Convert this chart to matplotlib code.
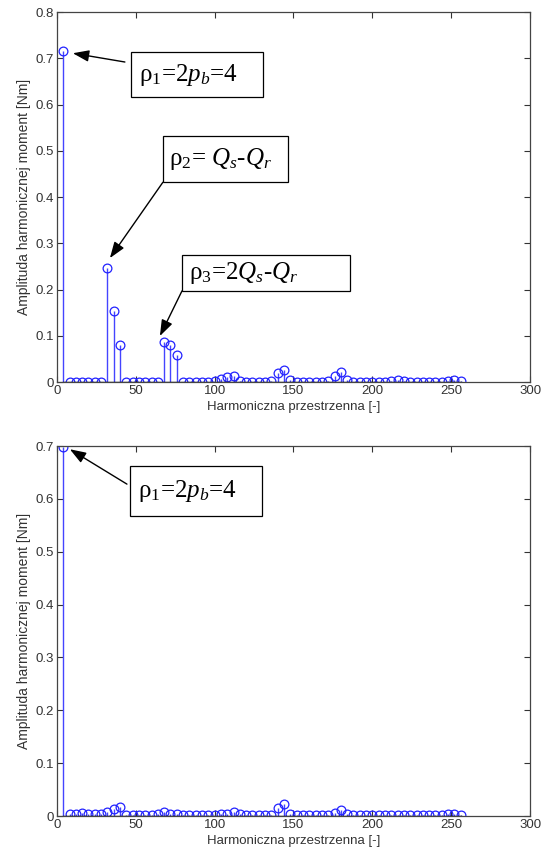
import numpy as np
import matplotlib
matplotlib.use('Agg')
import matplotlib.pyplot as plt
from matplotlib.patches import Rectangle

plt.rcParams['font.family'] = ['Liberation Sans', 'DejaVu Sans']
plt.rcParams['mathtext.fontset'] = 'custom'
plt.rcParams['mathtext.rm'] = 'Liberation Serif'
plt.rcParams['mathtext.it'] = 'Liberation Serif:italic'

# ================= data ===================
harmonic = np.arange(4, 257, 4)   # harmonic orders 4, 8, ..., 256

amp_top = [0.715, 0.001, 0.001, 0.001, 0.001, 0.001, 0.001, 0.246,
           0.153, 0.081, 0.001, 0.001, 0.001, 0.001, 0.001, 0.001,
           0.087, 0.079, 0.058, 0.001, 0.001, 0.001, 0.001, 0.001,
           0.002, 0.006, 0.011, 0.014, 0.002, 0.001, 0.001, 0.001,
           0.001, 0.002, 0.019, 0.027, 0.004, 0.001, 0.001, 0.001,
           0.001, 0.001, 0.002, 0.013, 0.022, 0.004, 0.001, 0.001,
           0.001, 0.001, 0.001, 0.001, 0.002, 0.005, 0.002, 0.001,
           0.001, 0.001, 0.001, 0.001, 0.001, 0.003, 0.005, 0.002]

amp_bottom = [0.698, 0.003, 0.004, 0.005, 0.004, 0.004, 0.003, 0.008,
              0.014, 0.018, 0.002, 0.002, 0.002, 0.002, 0.002, 0.003,
              0.008, 0.003, 0.003, 0.002, 0.002, 0.002, 0.002, 0.002,
              0.002, 0.003, 0.004, 0.007, 0.003, 0.002, 0.002, 0.002,
              0.002, 0.002, 0.015, 0.022, 0.004, 0.002, 0.002, 0.002,
              0.002, 0.002, 0.002, 0.006, 0.011, 0.003, 0.002, 0.002,
              0.002, 0.002, 0.002, 0.002, 0.002, 0.002, 0.002, 0.002,
              0.002, 0.002, 0.002, 0.002, 0.002, 0.003, 0.004, 0.002]

xlabel = 'Harmoniczna przestrzenna [-]'
ylabel = 'Amplituda harmonicznej moment [Nm]'

# ================= figure ===================
fig = plt.figure(figsize=(5.42, 8.56), dpi=100)
ax1 = fig.add_axes([0.105, 0.5537, 0.873, 0.4322])
ax2 = fig.add_axes([0.105, 0.0467, 0.873, 0.4322])


def stem_axes(ax, values, ymax):
    ml, sl, bl = ax.stem(harmonic, values, basefmt='k-')
    plt.setp(sl, color='#4444ff', linewidth=1.0)
    plt.setp(ml, color='#2222ff', marker='o', markersize=6.3,
             markerfacecolor='none', markeredgewidth=0.9)
    plt.setp(bl, linewidth=1.0)
    ax.set_xlim(0, 300)
    ax.set_ylim(0, ymax)
    ax.set_xticks(np.arange(0, 301, 50))
    ax.set_yticks(np.arange(0, ymax + 0.001, 0.1))
    ax.set_yticklabels(['0'] + ['%.1f' % v for v in np.arange(0.1, ymax + 0.001, 0.1)])
    ax.tick_params(direction='in', top=True, right=True, length=4,
                   labelsize=9.5, colors='#333333', labelcolor='#333333', pad=2)
    for s in ax.spines.values():
        s.set_color('#444444')
        s.set_linewidth(0.9)
    ax.set_xlabel(xlabel, fontsize=9.5, color='#333333', labelpad=3)
    ax.set_ylabel(ylabel, fontsize=10, color='#333333', labelpad=3)


def label_box(ax, x0, y0, x1, y1, tx, s):
    ax.add_patch(Rectangle((x0, y0), x1 - x0, y1 - y0, facecolor='white',
                           edgecolor='black', linewidth=0.9, zorder=5,
                           clip_on=False))
    ax.text(tx, (y0 + y1) / 2, s, fontsize=18, family='Liberation Serif',
            va='center', ha='left', zorder=6)


def arrow(ax, tail, head):
    ax.annotate('', xy=head, xytext=tail,
                arrowprops=dict(arrowstyle='-|>,head_length=0.7,head_width=0.25',
                                color='black', lw=1.0,
                                mutation_scale=14, shrinkA=0, shrinkB=0),
                zorder=6)


stem_axes(ax1, amp_top, 0.8)
stem_axes(ax2, amp_bottom, 0.7)

# annotations, top plot
label_box(ax1, 47, 0.616, 130.5, 0.7135, 52.0, r'ρ$_1$=2$p_b$=4')
arrow(ax1, (43.1, 0.692), (10.1, 0.711))
label_box(ax1, 67.2, 0.432, 146.5, 0.532, 71.0, r'ρ$_2$= $Q_s$-$Q_r$')
arrow(ax1, (67.2, 0.432), (33.6, 0.268))
label_box(ax1, 79.3, 0.197, 185.8, 0.275, 84.0, r'ρ$_3$=2$Q_s$-$Q_r$')
arrow(ax1, (79.3, 0.197), (65.3, 0.0995))

# annotations, bottom plot
label_box(ax2, 46.3, 0.567, 130.0, 0.663, 51.5, r'ρ$_1$=2$p_b$=4')
arrow(ax2, (44.4, 0.628), (8.2, 0.694))

fig.savefig('out.png', dpi=100)
